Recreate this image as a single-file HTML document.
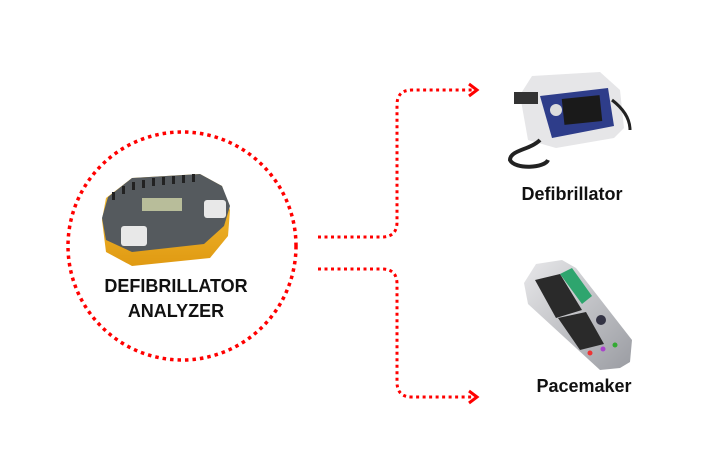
<!DOCTYPE html>
<html><head><style>
html,body{margin:0;padding:0;background:#fff;}
svg{display:block}
text{font-family:"Liberation Sans",sans-serif;font-weight:bold;fill:#111;}
</style></head><body>
<svg width="720" height="472" viewBox="0 0 720 472">
<defs>
<linearGradient id="gy" x1="0" y1="0" x2="0" y2="1"><stop offset="0" stop-color="#f7c33a"/><stop offset="1" stop-color="#e09a12"/></linearGradient>
<linearGradient id="gp" x1="0" y1="0" x2="1" y2="1"><stop offset="0" stop-color="#e8e8ea"/><stop offset="1" stop-color="#9a9ca2"/></linearGradient>
</defs>
<circle cx="182" cy="246" r="114" fill="none" stroke="#f00" stroke-width="3.5" stroke-dasharray="3.5 4"/>
<g fill="none" stroke="#f00" stroke-width="3" stroke-dasharray="3 3.5">
<path d="M318 237 H382 Q397 237 397 222 V105 Q397 90 412 90 H474"/>
<path d="M318 269 H382 Q397 269 397 284 V382 Q397 397 412 397 H474"/>
</g>
<g fill="none" stroke="#f00" stroke-width="3"><path d="M469 84 L477 90 L469 96"/><path d="M469 391 L477 397 L469 403"/></g>
<!-- analyzer -->
<path d="M102 220 L106 198 L132 178 L200 174 L222 186 L230 210 L228 236 L210 258 L132 266 L106 252 Z" fill="url(#gy)"/>
<path d="M102 218 L108 197 L132 178 L200 174 L222 186 L230 206 L224 226 L204 244 L132 252 L106 240 Z" fill="#555a5e"/>
<g fill="#222"><rect x="112" y="192" width="3" height="8"/><rect x="122" y="186" width="3" height="8"/><rect x="132" y="182" width="3" height="8"/><rect x="142" y="180" width="3" height="8"/><rect x="152" y="178" width="3" height="8"/><rect x="162" y="177" width="3" height="8"/><rect x="172" y="176" width="3" height="8"/><rect x="182" y="175" width="3" height="8"/><rect x="192" y="174" width="3" height="8"/></g>
<rect x="142" y="198" width="40" height="13" fill="#b8bd9a"/>
<rect x="204" y="200" width="22" height="18" rx="3" fill="#e8e8e8"/>
<rect x="121" y="226" width="26" height="20" rx="3" fill="#e8e8e8"/>
<text x="176" y="292" font-size="18" text-anchor="middle">DEFIBRILLATOR</text>
<text x="176" y="317" font-size="18" text-anchor="middle">ANALYZER</text>
<!-- defibrillator -->
<path d="M520 95 L532 76 L600 72 L620 90 L624 128 L614 138 L556 148 L528 140 Z" fill="#e6e6e8"/>
<path d="M540 96 L608 88 L614 126 L552 138 Z" fill="#2e3d8a"/>
<rect x="563" y="97" width="38" height="26" fill="#1a1a1a" transform="rotate(-6 582 110)"/>
<circle cx="556" cy="110" r="6" fill="#ddd"/>
<rect x="514" y="92" width="24" height="12" fill="#333"/>
<path d="M540 140 C530 150 510 150 510 160 C515 170 545 168 548 160" fill="none" stroke="#222" stroke-width="4"/>
<path d="M612 100 C625 110 630 120 630 130" fill="none" stroke="#222" stroke-width="3"/>
<text x="572" y="200" font-size="18" text-anchor="middle">Defibrillator</text>
<!-- pacemaker -->
<path d="M524 283 L536 264 L562 260 L576 268 L632 340 L630 362 L620 368 L600 370 L528 304 Z" fill="url(#gp)"/>
<path d="M535 280 L560 274 L582 310 L556 318 Z" fill="#2a2a2a"/>
<path d="M558 318 L586 312 L604 344 L580 350 Z" fill="#2a2a2a"/>
<path d="M560 274 L572 268 L592 296 L582 304 Z" fill="#2ea56e"/>
<circle cx="601" cy="320" r="5" fill="#334"/>
<circle cx="590" cy="353" r="2.5" fill="#e33"/><circle cx="603" cy="349" r="2.5" fill="#a4c"/><circle cx="615" cy="345" r="2.5" fill="#3a3"/>
<text x="584" y="392" font-size="18" text-anchor="middle">Pacemaker</text>
</svg>
</body></html>
